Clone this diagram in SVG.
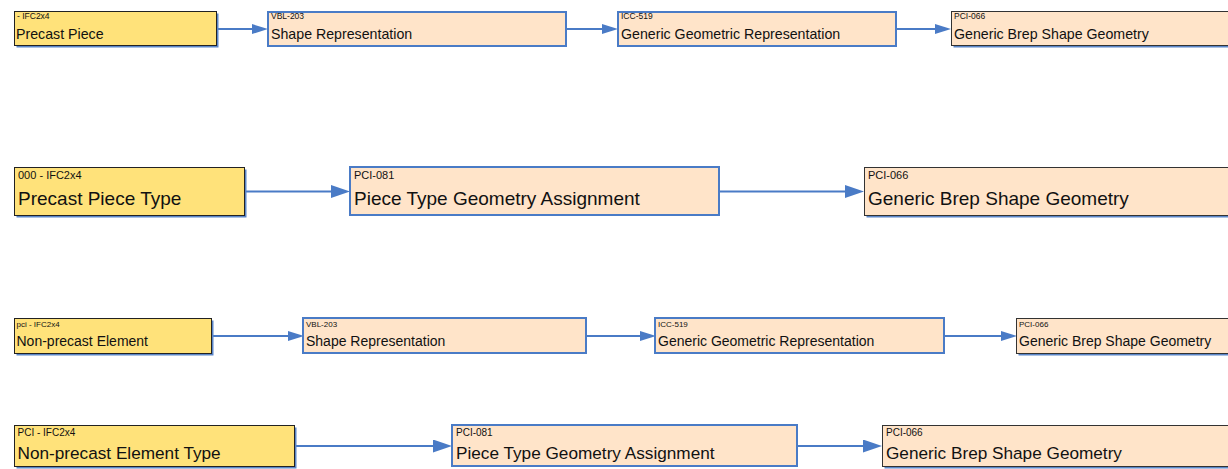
<svg xmlns="http://www.w3.org/2000/svg" width="1228" height="469" viewBox="0 0 1228 469">
  <style>
    text { font-family: "Liberation Sans", Arial, sans-serif; fill: #111; }
    .shadow { fill: #5B86C8; }
    .entity { fill: #FFE27A; stroke: #222; stroke-width: 1; }
    .ref { fill: #FFE4C9; stroke: #4A7BC6; stroke-width: 2; }
    .ext { fill: #FFE4C9; stroke: #333; stroke-width: 1; }
    .link { fill: none; stroke: #4A7BC6; stroke-width: 2; }
  </style>
  <defs>
    <!-- arrowheads sit just past the end of each connector line -->
    <marker id="headS" markerUnits="userSpaceOnUse" viewBox="0 0 16 10" refX="0" refY="5" markerWidth="16" markerHeight="10" orient="auto" preserveAspectRatio="none">
      <path d="M0,0 L16,5 L0,10 Z" fill="#4A7BC6"/>
    </marker>
    <marker id="headL" markerUnits="userSpaceOnUse" viewBox="0 0 19 13" refX="0" refY="6.5" markerWidth="19" markerHeight="13" orient="auto" preserveAspectRatio="none">
      <path d="M0,0 L19,6.5 L0,13 Z" fill="#4A7BC6"/>
    </marker>
  </defs>

  <rect width="1228" height="469" fill="#FFFFFF"/>

  <!-- connectors -->
  <g id="connectors">
    <path class="link" d="M216,29 L252,29" marker-end="url(#headS)"/>
    <path class="link" d="M566,29 L602,29" marker-end="url(#headS)"/>
    <path class="link" d="M896,29 L935,29" marker-end="url(#headS)"/>

    <path class="link" d="M245,191.5 L331,191.5" marker-end="url(#headL)"/>
    <path class="link" d="M719,191.5 L845,191.5" marker-end="url(#headL)"/>

    <path class="link" d="M212,336 L288,336" marker-end="url(#headS)"/>
    <path class="link" d="M586,336 L640,336" marker-end="url(#headS)"/>
    <path class="link" d="M944,336 L1001,336" marker-end="url(#headS)"/>

    <path class="link" d="M295,446 L433,446" marker-end="url(#headL)"/>
    <path class="link" d="M797,446 L863,446" marker-end="url(#headL)"/>
  </g>

  <!-- row 1 -->
  <g id="precast-piece">
    <rect class="shadow" x="16.5" y="13.5" width="202" height="34"/>
    <rect class="entity" x="14.5" y="11.5" width="202" height="34"/>
    <text x="17" y="18.5" font-size="8.5">- IFC2x4</text>
    <text x="16" y="39" font-size="14.2">Precast Piece</text>
  </g>
  <g id="shape-representation-1">
    <rect class="ref" x="268" y="12" width="298" height="34"/>
    <text x="271" y="19" font-size="8.5">VBL-203</text>
    <text x="271" y="39" font-size="14.2">Shape Representation</text>
  </g>
  <g id="generic-geometric-representation-1">
    <rect class="ref" x="618" y="12" width="278" height="34"/>
    <text x="621" y="19" font-size="8.5">ICC-519</text>
    <text x="621" y="39" font-size="14.2">Generic Geometric Representation</text>
  </g>
  <g id="generic-brep-1">
    <rect class="shadow" x="953.5" y="13.5" width="290" height="34"/>
    <rect class="ext" x="951.5" y="11.5" width="290" height="34"/>
    <text x="954" y="19" font-size="8.5">PCI-066</text>
    <text x="954" y="39" font-size="14.2">Generic Brep Shape Geometry</text>
  </g>

  <!-- row 2 -->
  <g id="precast-piece-type">
    <rect class="shadow" x="16.5" y="169.5" width="230" height="48"/>
    <rect class="entity" x="14.5" y="167.5" width="230" height="48"/>
    <text x="18" y="178.5" font-size="11">000 - IFC2x4</text>
    <text x="18" y="205" font-size="19">Precast Piece Type</text>
  </g>
  <g id="piece-type-geometry-assignment-1">
    <rect class="ref" x="350" y="167" width="369" height="48"/>
    <text x="354" y="178.5" font-size="11">PCI-081</text>
    <text x="354" y="205" font-size="19">Piece Type Geometry Assignment</text>
  </g>
  <g id="generic-brep-2">
    <rect class="shadow" x="866.5" y="169.5" width="400" height="48"/>
    <rect class="ext" x="864.5" y="167.5" width="400" height="48"/>
    <text x="868" y="178.5" font-size="11">PCI-066</text>
    <text x="868" y="205" font-size="19">Generic Brep Shape Geometry</text>
  </g>

  <!-- row 3 -->
  <g id="non-precast-element">
    <rect class="shadow" x="16.5" y="320.5" width="197" height="35"/>
    <rect class="entity" x="14.5" y="318.5" width="197" height="35"/>
    <text x="16.5" y="326.5" font-size="8">pci - IFC2x4</text>
    <text x="16.5" y="346" font-size="14">Non-precast Element</text>
  </g>
  <g id="shape-representation-2">
    <rect class="ref" x="303" y="318" width="283" height="35"/>
    <text x="306" y="326.5" font-size="8">VBL-203</text>
    <text x="306" y="346" font-size="14">Shape Representation</text>
  </g>
  <g id="generic-geometric-representation-2">
    <rect class="ref" x="655" y="318" width="289" height="35"/>
    <text x="658" y="326.5" font-size="8">ICC-519</text>
    <text x="658" y="346" font-size="14">Generic Geometric Representation</text>
  </g>
  <g id="generic-brep-3">
    <rect class="shadow" x="1018.5" y="320.5" width="250" height="35"/>
    <rect class="ext" x="1016.5" y="318.5" width="250" height="35"/>
    <text x="1019" y="326.5" font-size="8">PCI-066</text>
    <text x="1019" y="346" font-size="14">Generic Brep Shape Geometry</text>
  </g>

  <!-- row 4 -->
  <g id="non-precast-element-type">
    <rect class="shadow" x="16.5" y="427.5" width="280" height="41"/>
    <rect class="entity" x="14.5" y="425.5" width="280" height="41"/>
    <text x="17.5" y="435.5" font-size="10">PCI - IFC2x4</text>
    <text x="17.5" y="459" font-size="17.2">Non-precast Element Type</text>
  </g>
  <g id="piece-type-geometry-assignment-2">
    <rect class="ref" x="452" y="425" width="345" height="41"/>
    <text x="456" y="435.5" font-size="10">PCI-081</text>
    <text x="456" y="459" font-size="17.2">Piece Type Geometry Assignment</text>
  </g>
  <g id="generic-brep-4">
    <rect class="shadow" x="884.5" y="427.5" width="400" height="41"/>
    <rect class="ext" x="882.5" y="425.5" width="400" height="41"/>
    <text x="886" y="435.5" font-size="10">PCI-066</text>
    <text x="886" y="459" font-size="17.2">Generic Brep Shape Geometry</text>
  </g>
</svg>
